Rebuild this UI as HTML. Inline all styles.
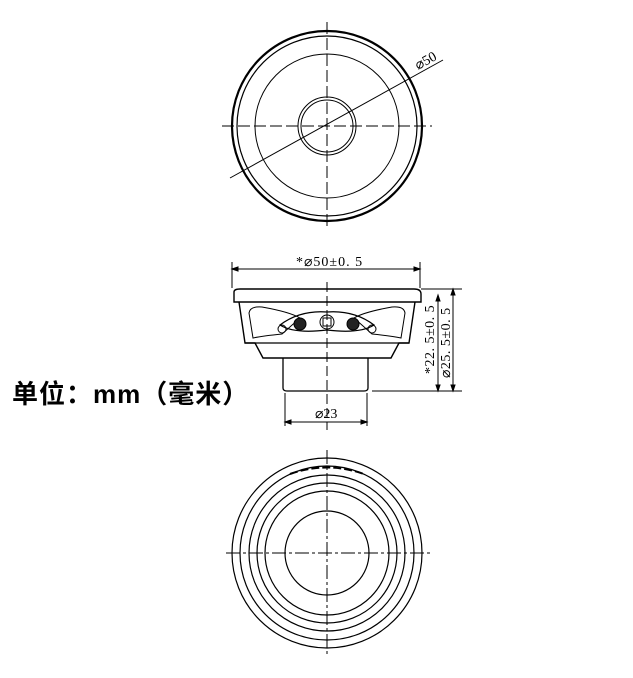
<!DOCTYPE html>
<html><head><meta charset="utf-8"><style>
html,body{margin:0;padding:0;background:#fff;}
svg{display:block}
text{font-family:"Liberation Serif","Noto Serif CJK SC",serif;fill:#000}
</style></head><body>
<svg width="633" height="678" viewBox="0 0 633 678" xmlns="http://www.w3.org/2000/svg">
<g fill="none" stroke="#000">
<circle cx="327" cy="126" r="95" stroke-width="2.2"/>
<circle cx="327" cy="126" r="90" stroke-width="1.2"/>
<circle cx="327" cy="126" r="72" stroke-width="1"/>
<circle cx="327" cy="126" r="29" stroke-width="1"/>
<circle cx="327" cy="126" r="26" stroke-width="1"/>
<line x1="222" y1="126" x2="432" y2="126" stroke-width="1" stroke-dasharray="12,4"/>
<line x1="327" y1="22" x2="327" y2="230" stroke-width="1" stroke-dasharray="12,4"/>
<line x1="230" y1="178" x2="443" y2="60" stroke-width="1"/>
<line x1="232" y1="269" x2="420" y2="269" stroke-width="1"/>
<line x1="232" y1="262" x2="232" y2="288" stroke-width="1"/>
<line x1="420" y1="262" x2="420" y2="288" stroke-width="1"/>
<path d="M232 269 l6 -2 v4z M420 269 l-6 -2 v4z" fill="#000"/>
<path d="M234 302 V292 Q234 289 240 289 H414 Q421 289 421 294 V302 Z" stroke-width="1.4"/>
<path d="M239 302 L245 343 L255 343 L263 358 H391 L399 343 L409 343 L415 302" stroke-width="1.4"/>
<line x1="245" y1="343" x2="409" y2="343" stroke-width="1.2"/>
<path d="M249 313 Q250 306 262 307 Q290 312 300 318 L282 334 Q262 336 253 338 Z" stroke-width="1"/>
<path d="M405 313 Q404 306 392 307 Q364 312 354 318 L372 334 Q392 336 401 338 Z" stroke-width="1"/>
<path d="M280 325 Q300 310 327 312 Q354 310 374 325 Q360 334 327 330 Q294 334 280 325Z" stroke-width="1.2"/>
<circle cx="282" cy="329" r="4" stroke-width="1"/>
<circle cx="372" cy="329" r="4" stroke-width="1"/>
<circle cx="300" cy="324" r="6" fill="#222"/>
<circle cx="353" cy="324" r="6" fill="#222"/>
<circle cx="327" cy="322" r="7" stroke-width="1"/>
<rect x="323" y="318" width="8" height="8" stroke-width="1"/>
<path d="M283 358 V388 Q283 391 287 391 H364 Q368 391 368 388 V358" stroke-width="1.3"/>
<line x1="327" y1="282" x2="327" y2="430" stroke-width="1" stroke-dasharray="10,4"/>
<line x1="285" y1="393" x2="285" y2="426" stroke-width="1"/>
<line x1="367" y1="393" x2="367" y2="426" stroke-width="1"/>
<line x1="285" y1="422" x2="367" y2="422" stroke-width="1"/>
<path d="M285 422 l6 -2 v4z M367 422 l-6 -2 v4z" fill="#000"/>
<line x1="421" y1="289" x2="462" y2="289" stroke-width="1"/>
<line x1="372" y1="391" x2="462" y2="391" stroke-width="1"/>
<line x1="438" y1="295" x2="438" y2="391" stroke-width="1"/>
<line x1="453" y1="289" x2="453" y2="391" stroke-width="1"/>
<path d="M438 295 l-2 6 h4z M438 391 l-2 -6 h4z M453 289 l-2 6 h4z M453 391 l-2 -6 h4z" fill="#000"/>
<circle cx="327" cy="553" r="95" stroke-width="1.2"/>
<circle cx="327" cy="553" r="87" stroke-width="1.2"/>
<circle cx="327" cy="553" r="78" stroke-width="1.2"/>
<circle cx="327" cy="553" r="70" stroke-width="1.2"/>
<circle cx="327" cy="553" r="62" stroke-width="1.2"/>
<circle cx="327" cy="553" r="42" stroke-width="1.2"/>
<line x1="226" y1="553" x2="430" y2="553" stroke-width="1" stroke-dasharray="14,3,3,3"/>
<line x1="327" y1="450" x2="327" y2="656" stroke-width="1" stroke-dasharray="14,3,3,3"/>
<path d="M290 474 Q327 461 364 474" stroke-width="2" stroke-dasharray="8,3"/>
</g>
<text x="418" y="70" font-size="14" transform="rotate(-29 418 70)">⌀50</text>
<text x="296" y="266" font-size="14" letter-spacing="1">*⌀50±0. 5</text>
<text x="315" y="418" font-size="14">⌀23</text>
<text x="434" y="374" font-size="14" letter-spacing="0.5" transform="rotate(-90 434 374)">*22. 5±0. 5</text>
<text x="450" y="378" font-size="14" letter-spacing="0.5" transform="rotate(-90 450 378)">⌀25. 5±0. 5</text>
<text x="12" y="403" font-size="26" style="font-family:'Liberation Sans','Noto Sans CJK SC',sans-serif;font-weight:bold" letter-spacing="1">单位：mm（毫米）</text>
</svg>
</body></html>
